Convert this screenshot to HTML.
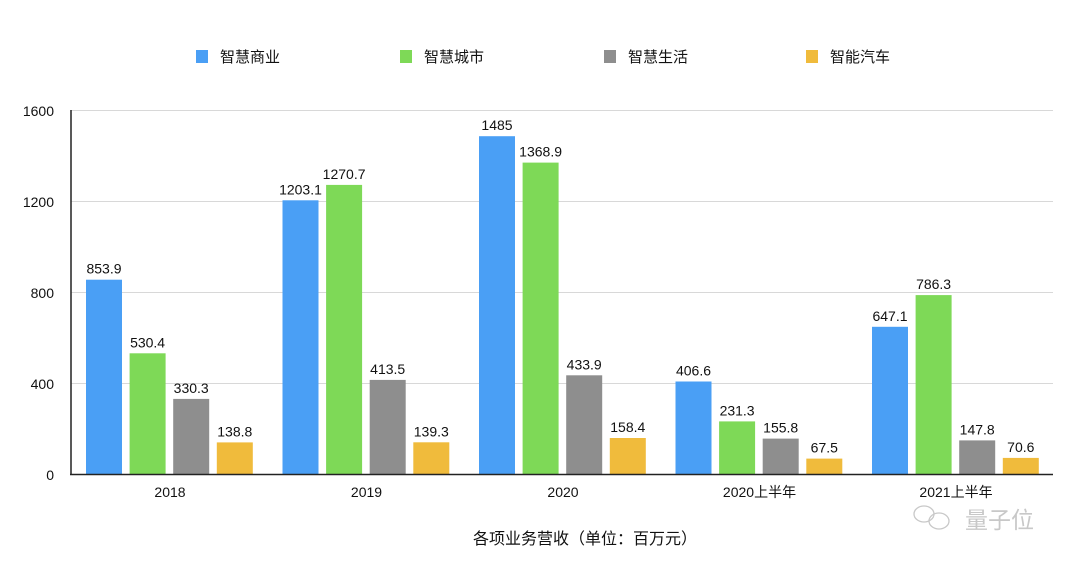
<!DOCTYPE html>
<html><head><meta charset="utf-8"><style>
html,body{margin:0;padding:0;background:#fff;}
svg{display:block;font-family:"Liberation Sans","Noto Sans CJK SC",sans-serif;}
</style></head><body>
<svg width="1080" height="567" viewBox="0 0 1080 567" xmlns="http://www.w3.org/2000/svg">
<g font-size="15" fill="#111">
<rect x="196" y="50" width="12" height="13" fill="#4a9ff5"/><text x="220" y="62">智慧商业</text>
<rect x="400" y="50" width="12" height="13" fill="#7ed957"/><text x="424" y="62">智慧城市</text>
<rect x="604" y="50" width="12" height="13" fill="#8e8e8e"/><text x="628" y="62">智慧生活</text>
<rect x="806" y="50" width="12" height="13" fill="#f0bb3c"/><text x="830" y="62">智能汽车</text>
</g>
<g stroke="#d8d8d8" stroke-width="1">
<line x1="71" y1="110.5" x2="1053" y2="110.5"/>
<line x1="71" y1="201.5" x2="1053" y2="201.5"/>
<line x1="71" y1="292.5" x2="1053" y2="292.5"/>
<line x1="71" y1="383.5" x2="1053" y2="383.5"/>
</g>
<g font-size="14" fill="#111" text-anchor="end">
<text x="54" y="116">1600</text><text x="54" y="207">1200</text><text x="54" y="298">800</text><text x="54" y="389">400</text><text x="54" y="480">0</text>
</g>
<g>
<rect x="86" y="279.7" width="36" height="194.3" fill="#4a9ff5"/>
<rect x="129.6" y="353.3" width="36" height="120.7" fill="#7ed957"/>
<rect x="173.2" y="398.9" width="36" height="75.1" fill="#8e8e8e"/>
<rect x="216.8" y="442.4" width="36" height="31.6" fill="#f0bb3c"/>
<rect x="282.5" y="200.3" width="36" height="273.7" fill="#4a9ff5"/>
<rect x="326.1" y="184.9" width="36" height="289.1" fill="#7ed957"/>
<rect x="369.7" y="379.9" width="36" height="94.1" fill="#8e8e8e"/>
<rect x="413.3" y="442.3" width="36" height="31.7" fill="#f0bb3c"/>
<rect x="479" y="136.2" width="36" height="337.8" fill="#4a9ff5"/>
<rect x="522.6" y="162.6" width="36" height="311.4" fill="#7ed957"/>
<rect x="566.2" y="375.3" width="36" height="98.7" fill="#8e8e8e"/>
<rect x="609.8" y="438" width="36" height="36" fill="#f0bb3c"/>
<rect x="675.5" y="381.5" width="36" height="92.5" fill="#4a9ff5"/>
<rect x="719.1" y="421.4" width="36" height="52.6" fill="#7ed957"/>
<rect x="762.7" y="438.6" width="36" height="35.4" fill="#8e8e8e"/>
<rect x="806.3" y="458.6" width="36" height="15.4" fill="#f0bb3c"/>
<rect x="872" y="326.8" width="36" height="147.2" fill="#4a9ff5"/>
<rect x="915.6" y="295.1" width="36" height="178.9" fill="#7ed957"/>
<rect x="959.2" y="440.4" width="36" height="33.6" fill="#8e8e8e"/>
<rect x="1002.8" y="457.9" width="36" height="16.1" fill="#f0bb3c"/>
</g>
<g font-size="14" fill="#111" text-anchor="middle">
<text x="104" y="273.7">853.9</text>
<text x="147.6" y="347.3">530.4</text>
<text x="191.2" y="392.9">330.3</text>
<text x="234.8" y="436.4">138.8</text>
<text x="300.5" y="194.3">1203.1</text>
<text x="344.1" y="178.9">1270.7</text>
<text x="387.7" y="373.9">413.5</text>
<text x="431.3" y="436.3">139.3</text>
<text x="497" y="130.2">1485</text>
<text x="540.6" y="156.6">1368.9</text>
<text x="584.2" y="369.3">433.9</text>
<text x="627.8" y="432">158.4</text>
<text x="693.5" y="375.5">406.6</text>
<text x="737.1" y="415.4">231.3</text>
<text x="780.7" y="432.6">155.8</text>
<text x="824.3" y="452.6">67.5</text>
<text x="890" y="320.8">647.1</text>
<text x="933.6" y="289.1">786.3</text>
<text x="977.2" y="434.4">147.8</text>
<text x="1020.8" y="451.9">70.6</text>
<text x="170" y="497">2018</text>
<text x="366.5" y="497">2019</text>
<text x="563" y="497">2020</text>
<text x="759.5" y="497">2020上半年</text>
<text x="956" y="497">2021上半年</text>
</g>
<line x1="71" y1="110" x2="71" y2="475" stroke="#222" stroke-width="1.5"/>
<line x1="70" y1="474.5" x2="1053" y2="474.5" stroke="#222" stroke-width="1.5"/>
<text x="585" y="544" font-size="16" fill="#111" text-anchor="middle">各项业务营收（单位：百万元）</text>
<g fill="none" stroke="#c8c8c8" stroke-width="1.3">
<ellipse cx="924" cy="514" rx="10" ry="8"/><ellipse cx="939" cy="521" rx="10" ry="8"/>
</g>
<text x="965" y="528" font-size="23" fill="#c8c8c8">量子位</text>
</svg>
</body></html>
